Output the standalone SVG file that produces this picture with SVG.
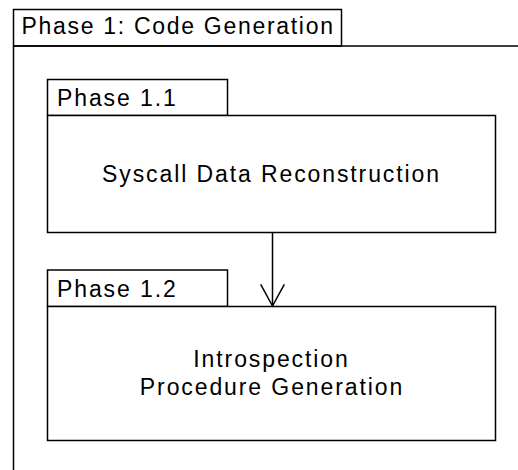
<svg xmlns="http://www.w3.org/2000/svg" width="518" height="470" viewBox="0 0 518 470">
  <style>
    .frame { fill: #ffffff; stroke: #000000; stroke-width: 1.5; }
    .edge { fill: none; stroke: #000000; stroke-width: 1.5; }
    .label { font-family: "Liberation Sans", Arial, sans-serif; font-size: 23px; letter-spacing: 1.9px; fill: #000000; }
    .title { letter-spacing: 1.7px; }
    .center { text-anchor: middle; }
  </style>
  <rect x="0" y="0" width="518" height="470" fill="#ffffff"/>

  <!-- outer package: Phase 1 -->
  <g id="phase1">
    <rect class="frame" x="13.5" y="9.5" width="328" height="36.5"/>
    <path class="edge" d="M13.5 46 H520 M13.5 46 V472"/>
    <text class="label title" x="21.5" y="33.5">Phase 1: Code Generation</text>
  </g>

  <!-- package: Phase 1.1 -->
  <g id="phase1_1">
    <rect class="frame" x="47.5" y="79.5" width="180" height="36"/>
    <rect class="frame" x="47.5" y="115.5" width="448" height="117"/>
    <text class="label" x="57" y="105.5">Phase 1.1</text>
    <text class="label center" x="271.5" y="181.5">Syscall Data Reconstruction</text>
  </g>

  <!-- package: Phase 1.2 -->
  <g id="phase1_2">
    <rect class="frame" x="47.5" y="270" width="180" height="36.5"/>
    <rect class="frame" x="47.5" y="306.5" width="448" height="134"/>
    <text class="label" x="57" y="296.5">Phase 1.2</text>
    <text class="label center" x="271.5" y="367.3">Introspection</text>
    <text class="label center" x="272" y="395">Procedure Generation</text>
  </g>

  <!-- dependency between the two packages -->
  <g id="connectors">
    <path class="edge" d="M272.5 232.5 V306"/>
    <path class="edge" d="M260.7 284.3 L272.5 306 L284.3 284.3"/>
  </g>
</svg>
